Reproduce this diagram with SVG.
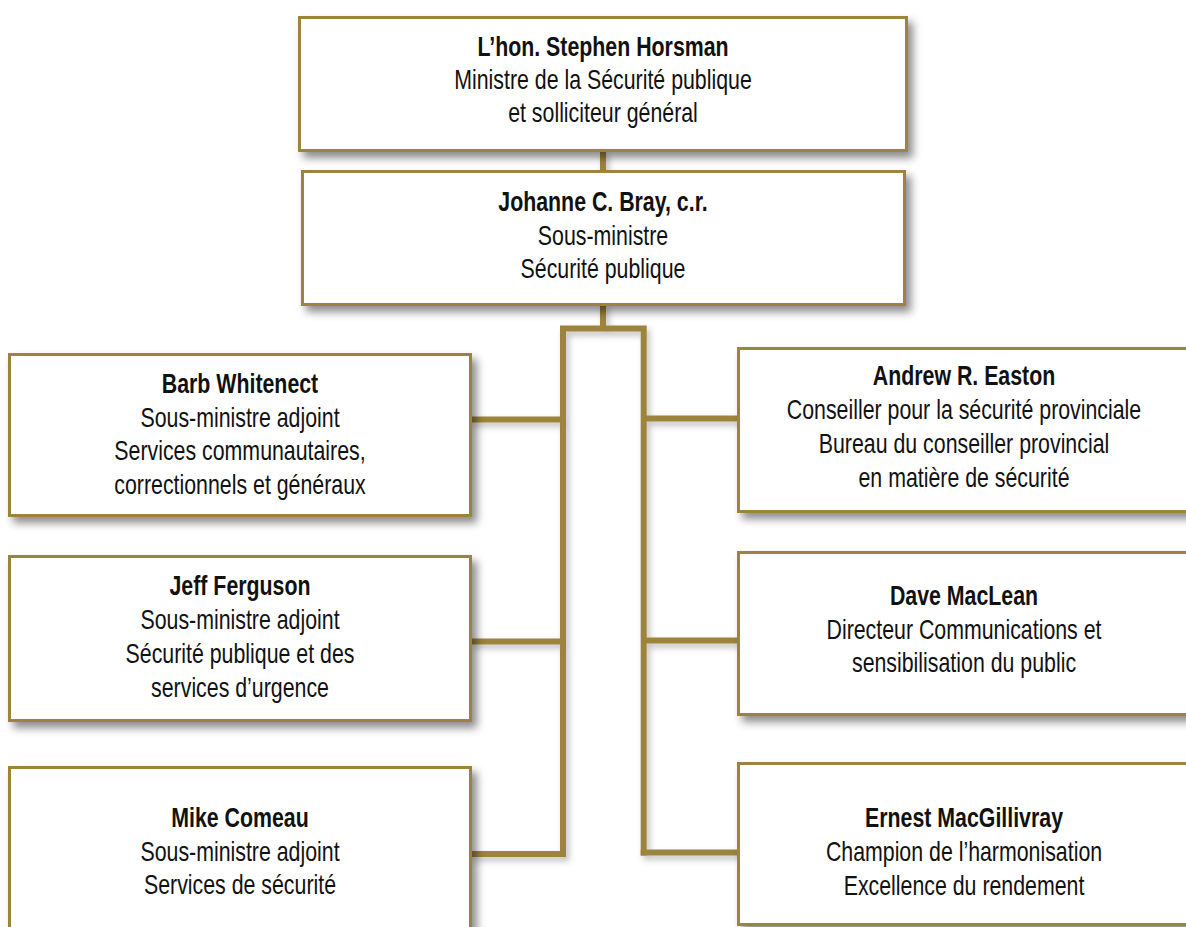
<svg xmlns="http://www.w3.org/2000/svg" width="1186" height="927" viewBox="0 0 1186 927">
<defs>
<filter id="sh" x="-10%" y="-15%" width="125%" height="140%">
<feDropShadow dx="5" dy="6" stdDeviation="4" flood-color="#000" flood-opacity="0.45"/>
</filter>
<filter id="shl" x="-20%" y="-20%" width="140%" height="140%">
<feDropShadow dx="3" dy="4" stdDeviation="3" flood-color="#000" flood-opacity="0.25"/>
</filter>
</defs>
<style>
.box{fill:#fff;stroke:#9c843e;stroke-width:3;filter:url(#sh)}
.ln{fill:none;stroke:#9c843e;stroke-width:6;stroke-linecap:butt;stroke-linejoin:miter}
text{font-family:"Liberation Sans",Arial,sans-serif;font-size:27px;fill:#111;text-anchor:middle}
.b{font-weight:bold}
</style>
<rect width="1186" height="927" fill="#fff"/>
<g id="connectors" filter="url(#shl)">
<path class="ln" d="M603 150V172"/>
<path class="ln" d="M603 304V330"/>
<path class="ln" d="M563 857V328.5H643.7V855.5"/>
<path class="ln" d="M470 419.5H563"/>
<path class="ln" d="M470 641.5H563"/>
<path class="ln" d="M470 854H566"/>
<path class="ln" d="M643.7 418.5H740"/>
<path class="ln" d="M643.7 640.5H740"/>
<path class="ln" d="M640.7 852.5H740"/>
</g>
<g id="n1"><rect class="box" x="299.5" y="17.5" width="607" height="133"/>
<g transform="translate(603 0) scale(0.79 1)">
<text x="0" y="56" class="b">L’hon. Stephen Horsman</text>
<text x="0" y="89">Ministre de la Sécurité publique</text>
<text x="0" y="122">et solliciteur général</text></g></g>
<g id="n2"><rect class="box" x="302.5" y="171.5" width="602" height="133"/>
<g transform="translate(603 0) scale(0.79 1)">
<text x="0" y="211" class="b">Johanne C. Bray, c.r.</text>
<text x="0" y="245">Sous-ministre</text>
<text x="0" y="278">Sécurité publique</text></g></g>
<g id="n3"><rect class="box" x="9.5" y="354.5" width="461" height="161"/>
<g transform="translate(240 0) scale(0.79 1)">
<text x="0" y="393" class="b">Barb Whitenect</text>
<text x="0" y="427">Sous-ministre adjoint</text>
<text x="0" y="460">Services communautaires,</text>
<text x="0" y="494">correctionnels et généraux</text></g></g>
<g id="n4"><rect class="box" x="9.5" y="556.5" width="461" height="164"/>
<g transform="translate(240 0) scale(0.79 1)">
<text x="0" y="595" class="b">Jeff Ferguson</text>
<text x="0" y="629">Sous-ministre adjoint</text>
<text x="0" y="663">Sécurité publique et des</text>
<text x="0" y="697">services d’urgence</text></g></g>
<g id="n5"><rect class="box" x="9.5" y="767.5" width="461" height="172"/>
<g transform="translate(240 0) scale(0.79 1)">
<text x="0" y="827" class="b">Mike Comeau</text>
<text x="0" y="861">Sous-ministre adjoint</text>
<text x="0" y="894">Services de sécurité</text></g></g>
<g id="n6"><rect class="box" x="738.5" y="348.5" width="462" height="163"/>
<g transform="translate(964 0) scale(0.79 1)">
<text x="0" y="385" class="b">Andrew R. Easton</text>
<text x="0" y="419">Conseiller pour la sécurité provinciale</text>
<text x="0" y="453">Bureau du conseiller provincial</text>
<text x="0" y="487">en matière de sécurité</text></g></g>
<g id="n7"><rect class="box" x="738.5" y="552.5" width="462" height="162"/>
<g transform="translate(964 0) scale(0.79 1)">
<text x="0" y="605" class="b">Dave MacLean</text>
<text x="0" y="639">Directeur Communications et</text>
<text x="0" y="672">sensibilisation du public</text></g></g>
<g id="n8"><rect class="box" x="738.5" y="763.5" width="462" height="161"/>
<g transform="translate(964 0) scale(0.79 1)">
<text x="0" y="827" class="b">Ernest MacGillivray</text>
<text x="0" y="861">Champion de l’harmonisation</text>
<text x="0" y="895">Excellence du rendement</text></g></g>
</svg>
